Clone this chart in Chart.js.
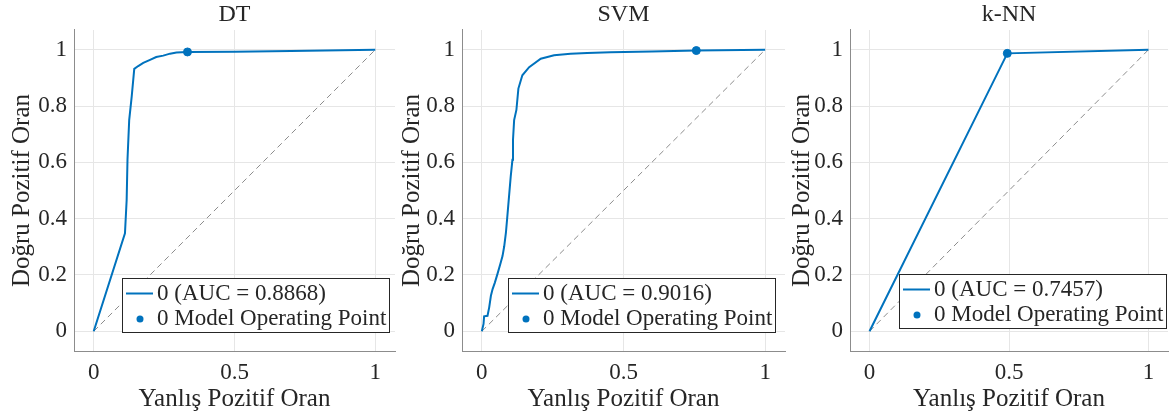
<!DOCTYPE html>
<html>
<head>
<meta charset="utf-8">
<title>ROC eğrileri</title>
<script src="https://cdn.jsdelivr.net/npm/chart.js@4.4.0/dist/chart.umd.min.js"></script>
<style>
    body { margin: 0; background: #fff; }
    #wrap { position: relative; width: 1173px; height: 418px; overflow: hidden; }
    #wrap canvas { position: absolute; top: 0; }
</style>
</head>
<body>
<div id="wrap">
    <canvas id="rocDT" width="400" height="418" style="left:0px"></canvas>
    <canvas id="rocSVM" width="400" height="418" style="left:390px"></canvas>
    <canvas id="rocKNN" width="393" height="418" style="left:780px"></canvas>
</div>

<script>
    // ROC points (false positive rate / true positive rate) for each model
    const dtFpr = [0, 0.111, 0.117, 0.120, 0.126, 0.135, 0.144, 0.158, 0.176, 0.200, 0.222, 0.247, 0.271, 0.294, 0.333, 0.500, 0.700, 1];
    const dtTpr = [0, 0.348, 0.466, 0.610, 0.750, 0.834, 0.932, 0.942, 0.953, 0.964, 0.974, 0.979, 0.986, 0.990, 0.992, 0.993, 0.995, 1];

    const svmFpr = [0, 0.006, 0.008, 0.020, 0.026, 0.032, 0.038, 0.046, 0.055, 0.065, 0.073, 0.079, 0.085, 0.090, 0.096, 0.102, 0.108, 0.110, 0.114, 0.122, 0.129, 0.143, 0.167, 0.208, 0.255, 0.313, 0.372, 0.454, 0.600, 0.757, 1];
    const svmTpr = [0, 0.026, 0.053, 0.055, 0.085, 0.126, 0.150, 0.173, 0.203, 0.238, 0.267, 0.302, 0.350, 0.408, 0.479, 0.550, 0.609, 0.680, 0.750, 0.786, 0.862, 0.909, 0.938, 0.968, 0.980, 0.986, 0.988, 0.991, 0.994, 0.997, 1];

    const knnFpr = [0, 0.494, 1];
    const knnTpr = [0, 0.987, 1];

    // model operating points [fpr, tpr]
    const dtOp = [0.333, 0.992];
    const svmOp = [0.757, 0.997];
    const knnOp = [0.494, 0.987];

    const aucValues = [0.8868, 0.9016, 0.7457];
    const modelNames = ['DT', 'SVM', 'k-NN'];

    const xTicks = [0, 0.5, 1];
    const yTicks = [0, 0.2, 0.4, 0.6, 0.8, 1];

    const family = "'Liberation Serif', 'Times New Roman', serif";
    const textColor = '#262626';
    const blue = '#0072BD';

    Chart.defaults.font.family = family;

    function toPoints(xs, ys) {
        return xs.map((x, i) => ({ x: x, y: ys[i] }));
    }

    // legend box drawn inside the plot, bottom right
    const rocLegend = {
        id: 'rocLegend',
        afterDatasetsDraw(chart, args, opts) {
            const ctx = chart.ctx;
            const area = chart.chartArea;
            const curve = chart.data.datasets[1];
            const point = chart.data.datasets[2];
            ctx.save();
            ctx.font = '23px ' + family;
            const textW = Math.max(ctx.measureText(curve.label).width, ctx.measureText(point.label).width);
            const w = 4 + 27 + 4 + textW + 4;
            const h = 55;
            const right = area.right - opts.right;
            const bottom = area.bottom - opts.bottom;
            const left = Math.round(right - w);
            const top = Math.round(bottom - h);

            ctx.fillStyle = '#fff';
            ctx.fillRect(left, top, w, h);
            ctx.strokeStyle = textColor;
            ctx.lineWidth = 1;
            ctx.strokeRect(left + 0.5, top + 0.5, Math.round(w) - 1, h - 1);

            const row1 = top + 15.5;
            const row2 = top + 41;
            ctx.strokeStyle = blue;
            ctx.lineWidth = 2;
            ctx.beginPath();
            ctx.moveTo(left + 4, row1);
            ctx.lineTo(left + 31, row1);
            ctx.stroke();

            ctx.fillStyle = blue;
            ctx.beginPath();
            ctx.arc(left + 18, row2, 3.5, 0, Math.PI * 2);
            ctx.fill();

            ctx.fillStyle = textColor;
            ctx.textBaseline = 'middle';
            ctx.textAlign = 'left';
            ctx.fillText(curve.label, left + 35, row1);
            ctx.fillText(point.label, left + 35, row2);
            ctx.restore();
        }
    };

    function makeRoc(id, idx, fpr, tpr, op, yWidth, rightPad, legendPos) {
        new Chart(document.getElementById(id), {
            type: 'scatter',
            data: {
                datasets: [
                    {
                        label: 'diagonal',
                        data: toPoints([0, 1], [0, 1]),
                        showLine: true,
                        borderColor: '#8c8c8c',
                        borderWidth: 1,
                        borderDash: [6, 4],
                        pointRadius: 0,
                        order: 3
                    },
                    {
                        label: '0 (AUC = ' + aucValues[idx].toFixed(4) + ')',
                        data: toPoints(fpr, tpr),
                        showLine: true,
                        borderColor: blue,
                        borderWidth: 2,
                        pointRadius: 0,
                        tension: 0,
                        order: 2
                    },
                    {
                        label: '0 Model Operating Point',
                        data: toPoints([op[0]], [op[1]]),
                        backgroundColor: blue,
                        borderColor: blue,
                        pointRadius: 4,
                        order: 1
                    }
                ]
            },
            options: {
                responsive: false,
                animation: false,
                layout: { padding: { left: 0, right: rightPad, top: 0, bottom: 0 } },
                plugins: {
                    legend: { display: false },
                    tooltip: { enabled: false },
                    title: {
                        display: true,
                        text: modelNames[idx],
                        fullSize: false,
                        color: textColor,
                        font: { family: family, size: 24, weight: 'normal', lineHeight: 1.2 },
                        padding: { top: 0, bottom: 1.2 }
                    },
                    rocLegend: legendPos
                },
                scales: {
                    x: {
                        type: 'linear',
                        min: -0.07,
                        max: 1.07,
                        afterBuildTicks: s => { s.ticks = xTicks.map(v => ({ value: v })); },
                        afterFit: s => { s.height = 67; },
                        grid: { color: '#e6e6e6', drawTicks: false },
                        border: { color: '#8c8c8c', width: 1 },
                        ticks: { padding: 8, color: textColor, font: { family: family, size: 23 }, callback: v => String(v) },
                        title: {
                            display: true,
                            text: 'Yanlış Pozitif Oran',
                            color: textColor,
                            font: { family: family, size: 25 },
                            padding: { top: 0, bottom: 4 }
                        }
                    },
                    y: {
                        type: 'linear',
                        min: -0.07,
                        max: 1.07,
                        afterBuildTicks: s => { s.ticks = yTicks.map(v => ({ value: v })); },
                        afterFit: s => { s.width = yWidth; },
                        grid: { color: '#e6e6e6', drawTicks: false },
                        border: { color: '#8c8c8c', width: 1 },
                        ticks: { padding: 7, color: textColor, font: { family: family, size: 23 }, callback: v => String(v) },
                        title: {
                            display: true,
                            text: 'Doğru Pozitif Oran',
                            color: textColor,
                            font: { family: family, size: 25 },
                            padding: { top: 7, bottom: 0 }
                        }
                    }
                }
            },
            plugins: [rocLegend]
        });
    }

    makeRoc('rocDT', 0, dtFpr, dtTpr, dtOp, 74, 5, { right: 5, bottom: 18 });
    makeRoc('rocSVM', 1, svmFpr, svmTpr, svmOp, 72, 5, { right: 9, bottom: 18 });
    makeRoc('rocKNN', 2, knnFpr, knnTpr, knnOp, 70, 1, { right: 1, bottom: 22 });
</script>
</body>
</html>
